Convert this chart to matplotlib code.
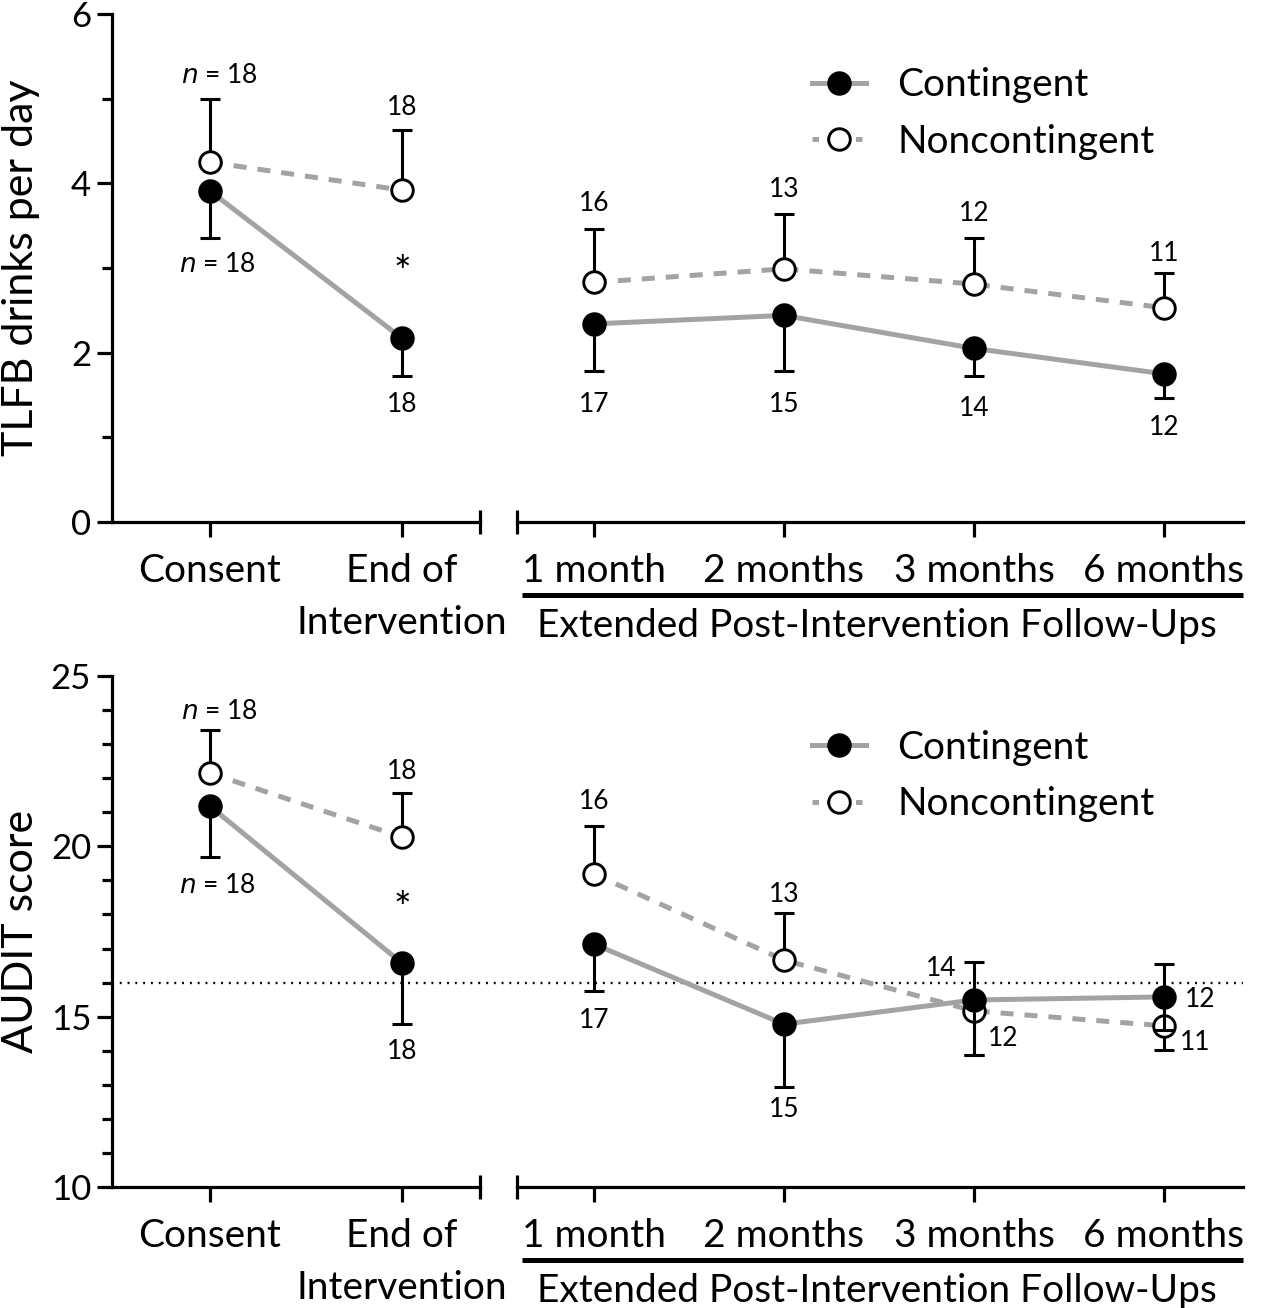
import numpy as np
import matplotlib
matplotlib.use("Agg")
import matplotlib.pyplot as plt
from matplotlib.transforms import offset_copy
from matplotlib.lines import Line2D

plt.rcParams['font.family'] = ['Lato', 'DejaVu Sans']

# categories
pre_labels = ["Consent", "End of\nIntervention"]
post_labels = ["1 month", "2 months", "3 months", "6 months"]
group_label = "Extended Post-Intervention Follow-Ups"

# TLFB drinks per day (means, error below / above)
tlfb_cont = [3.91, 2.17, 2.34, 2.44, 2.05, 1.75]
tlfb_cont_lo = [0.55, 0.45, 0.56, 0.66, 0.33, 0.29]
tlfb_cont_hi = [0, 0, 0, 0, 0, 0]
tlfb_non = [4.25, 3.92, 2.83, 2.99, 2.81, 2.53]
tlfb_non_lo = [0, 0, 0, 0, 0, 0]
tlfb_non_hi = [0.75, 0.71, 0.63, 0.65, 0.54, 0.41]

# AUDIT score
audit_cont = [21.18, 16.57, 17.13, 14.78, 15.49, 15.58]
audit_cont_lo = [1.49, 1.79, 1.38, 1.84, 1.62, 0.97]
audit_cont_hi = [0, 0, 0, 0, 1.11, 0.97]
audit_non = [22.15, 20.27, 19.19, 16.66, 15.17, 14.73]
audit_non_lo = [0, 0, 0, 0, 1.30, 0.71]
audit_non_hi = [1.26, 1.29, 1.41, 1.38, 0, 0]
audit_cutoff = 16

# sample sizes
n_cont = [18, 18, 17, 15, 14, 12]
n_non = [18, 18, 16, 13, 12, 11]

GREY = '#a3a3a3'

fig = plt.figure(figsize=(12.62, 13.08), dpi=100)


def make_axes(bottom, height):
    axl = fig.add_axes([112 / 1262, bottom, 368 / 1262, height])
    axr = fig.add_axes([517 / 1262, bottom, 726 / 1262, height])
    return axl, axr


def style_axes(axl, axr, ylim, major, minor, ylabel):
    for ax in (axl, axr):
        ax.set_ylim(*ylim)
        for s in ['top', 'right']:
            ax.spines[s].set_visible(False)
        ax.spines['bottom'].set_linewidth(2.3)
        ax.spines['left'].set_linewidth(2.3)
        ax.tick_params(axis='x', length=11, width=2.3, labelsize=28, pad=11.5)
        ax.patch.set_alpha(0)
    axr.spines['left'].set_visible(False)
    axr.set_yticks([])
    axl.set_yticks(major)
    axl.set_yticks(minor, minor=True)
    axl.tick_params(axis='y', which='major', length=11, width=2.3, labelsize=25, pad=4)
    axl.tick_params(axis='y', which='minor', length=7, width=2.3)
    axl.set_ylabel(ylabel, fontsize=31)
    axl.yaxis.set_label_coords(-0.195, 0.5)

    axl.set_xlim(-0.51, 1.406)
    axl.set_xticks(range(len(pre_labels)))
    axl.set_xticklabels(pre_labels, linespacing=1.55)
    axr.set_xlim(-0.405, 3.416)
    axr.set_xticks(range(len(post_labels)))
    axr.set_xticklabels(post_labels)

    # axis break marks
    for ax, at_right in ((axl, True), (axr, False)):
        tr = ax.get_xaxis_transform()
        h = 12 / (ax.get_position().height * 1308)
        xb = ax.get_xlim()[1] if at_right else ax.get_xlim()[0]
        ax.plot([xb, xb], [-h, h], color='k', lw=2.3, clip_on=False, transform=tr,
                solid_capstyle='butt')

    # underline + group label
    tr_line = offset_copy(axr.transAxes, fig, 0, -73, units='dots')
    axr.plot([0.007, 1.0], [0, 0], color='k', lw=3.6, transform=tr_line, clip_on=False,
             solid_capstyle='butt')
    tr_txt = offset_copy(axr.transAxes, fig, 0, -104, units='dots')
    axr.text(0.496, 0, group_label, transform=tr_txt, ha='center', va='center', fontsize=28)


def draw_series(axl, axr, mean, lo, hi, filled, dashed, z):
    mean = np.asarray(mean)
    lo = np.asarray(lo)
    hi = np.asarray(hi)
    parts = ((axl, slice(0, 2)), (axr, slice(2, 6)))
    for ax, sl in parts:
        m, l, h = mean[sl], lo[sl], hi[sl]
        xs = np.arange(len(m))
        if dashed:
            ax.plot(xs, m, color=GREY, lw=3.6, zorder=z, dashes=(2.6, 2.2))
        else:
            ax.plot(xs, m, color=GREY, lw=3.6, zorder=z)
        ax.vlines(xs, m - l, m + h, color='k', lw=2.2, zorder=z + 1)
        ax.plot(xs[l > 0], (m - l)[l > 0], '_', color='k', ms=15, mew=2.2, zorder=z + 1)
        ax.plot(xs[h > 0], (m + h)[h > 0], '_', color='k', ms=15, mew=2.2, zorder=z + 1)
        ax.plot(xs, m, 'o', ms=15.5, mew=2.1, mec='k',
                mfc='k' if filled else 'white', zorder=z + 2)


def add_n(axl, axr, mean, lo, hi, nvals, offsets):
    for i, (m, n, off) in enumerate(zip(mean, nvals, offsets)):
        ax = axl if i < 2 else axr
        x = i if i < 2 else i - 2
        dx, dy, side = off
        yend = m + hi[i] if side == 'hi' else m - lo[i]
        txt = (r"$\it{n}$" + f" = {n}") if i == 0 else f"{n}"
        ax.annotate(txt, xy=(x, yend), xytext=(dx, dy), textcoords='offset pixels',
                    ha='center', va='center', fontsize=19, annotation_clip=False)


def add_legend(axr, y):
    c = Line2D([], [], color=GREY, lw=3.6, marker='o', ms=15.5, mfc='k', mec='k', mew=2.1)
    nc = Line2D([], [], color=GREY, lw=3.6, dashes=(1.3, 1.6), marker='o', ms=15.5,
                mfc='white', mec='k', mew=2.1)
    axr.legend([c, nc], ["Contingent", "Noncontingent"], loc='upper left',
               bbox_to_anchor=(0.358, y), frameon=False, fontsize=28,
               handlelength=1.4, handletextpad=0.8, labelspacing=0.52)


# ---- top panel: TLFB ----
t_l, t_r = make_axes(1 - 522 / 1308, 508 / 1308)
style_axes(t_l, t_r, (0, 6), [0, 2, 4, 6], [1, 3, 5], "TLFB drinks per day")
draw_series(t_l, t_r, tlfb_non, tlfb_non_lo, tlfb_non_hi, False, True, 3)
draw_series(t_l, t_r, tlfb_cont, tlfb_cont_lo, tlfb_cont_hi, True, False, 6)
add_n(t_l, t_r, tlfb_cont, tlfb_cont_lo, tlfb_cont_hi, n_cont,
      [(7, -27, 'lo'), (0, -28, 'lo'), (0, -33, 'lo'), (0, -33, 'lo'), (0, -32, 'lo'), (0, -29, 'lo')])
add_n(t_l, t_r, tlfb_non, tlfb_non_lo, tlfb_non_hi, n_non,
      [(9, 23, 'hi'), (0, 22, 'hi'), (0, 26, 'hi'), (0, 24, 'hi'), (0, 25, 'hi'), (0, 20, 'hi')])
t_l.annotate("*", xy=(1, (tlfb_cont[1] + tlfb_non[1]) / 2), xytext=(0, -10),
             textcoords='offset pixels', ha='center', va='center', fontsize=30)
add_legend(t_r, 0.964)

# ---- bottom panel: AUDIT ----
b_l, b_r = make_axes(1 - 1187 / 1308, 511 / 1308)
style_axes(b_l, b_r, (10, 25), [10, 15, 20, 25], [11, 12, 13, 14, 16, 17, 18, 19, 21, 22, 23, 24],
           "AUDIT score")
b_l.axhline(audit_cutoff, xmin=0, xmax=(1243 - 112) / 368, color='k', lw=1.7,
            linestyle=(0, (0.8, 2.5)), clip_on=False, zorder=1)
draw_series(b_l, b_r, audit_non, audit_non_lo, audit_non_hi, False, True, 3)
draw_series(b_l, b_r, audit_cont, audit_cont_lo, audit_cont_hi, True, False, 6)
add_n(b_l, b_r, audit_cont, audit_cont_lo, audit_cont_hi, n_cont,
      [(7, -29, 'lo'), (0, -27, 'lo'), (0, -29, 'lo'), (0, -23, 'lo'), (-33, -6, 'hi'), (36, -36, 'hi')])
add_n(b_l, b_r, audit_non, audit_non_lo, audit_non_hi, n_non,
      [(9, 19, 'hi'), (0, 22, 'hi'), (0, 24, 'hi'), (0, 19, 'hi'), (29, 17, 'lo'), (31, 8, 'lo')])
b_l.annotate("*", xy=(1, (audit_cont[1] + audit_non[1]) / 2), xytext=(0, -10),
             textcoords='offset pixels', ha='center', va='center', fontsize=30)
add_legend(b_r, 0.963)

fig.savefig("out.png", dpi=100)
